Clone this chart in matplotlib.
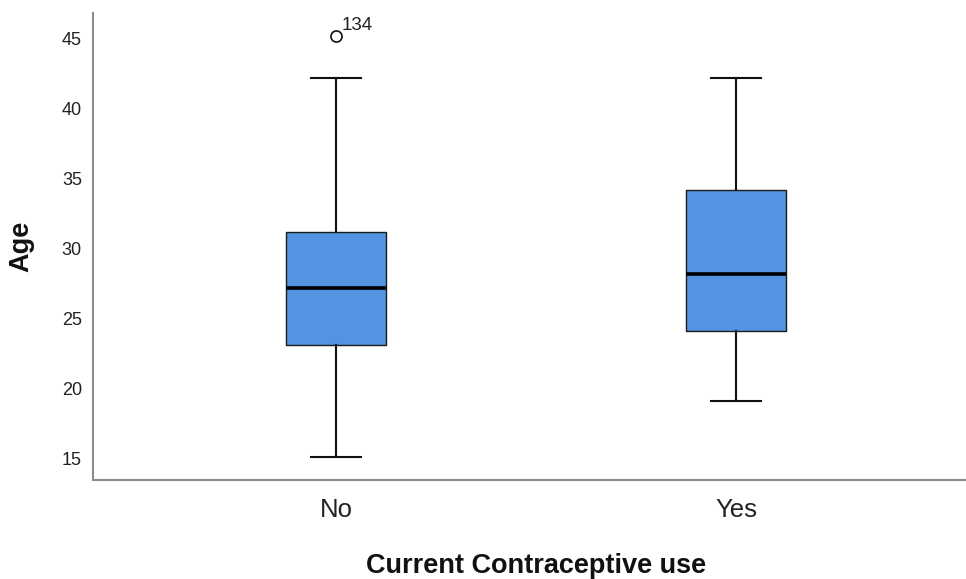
import matplotlib
matplotlib.use("Agg")
import matplotlib.pyplot as plt
import matplotlib.transforms as mtransforms

categories = ["No", "Yes"]
whislo = [15, 19]
q1 = [23, 24]
med = [27, 28]
q3 = [31, 34]
whishi = [42, 42]
outliers = [[45], []]
outlier_ids = [["134"], []]
yticks = [15, 20, 25, 30, 35, 40, 45]

plt.rcParams['font.family'] = ['Liberation Sans', 'DejaVu Sans']

fig = plt.figure(figsize=(9.66, 5.79), dpi=100)
ax = fig.add_axes([93/966, 1 - 480/579, 1 - 93/966, 467/579])

stats = []
for i, c in enumerate(categories):
    stats.append(dict(label=c, whislo=whislo[i], q1=q1[i], med=med[i],
                      q3=q3[i], whishi=whishi[i], fliers=outliers[i]))

positions = list(range(len(categories)))
ax.bxp(stats, positions=positions, widths=0.25, capwidths=0.125,
       patch_artist=True, showfliers=True,
       boxprops=dict(facecolor='#5294e2', edgecolor='#1a1a1a', linewidth=1.0),
       medianprops=dict(color='black', linewidth=2.6, solid_capstyle='butt'),
       whiskerprops=dict(color='#111111', linewidth=1.5),
       capprops=dict(color='#111111', linewidth=1.5),
       flierprops=dict(marker='o', markersize=8, markerfacecolor='none',
                       markeredgecolor='#111111', markeredgewidth=1.2))

for i, ids in enumerate(outlier_ids):
    for val, lab in zip(outliers[i], ids):
        ax.annotate(lab, xy=(positions[i], val), xytext=(4, 8),
                    textcoords='offset points', ha='left', va='center',
                    fontsize=13.5, color='#222222')

ax.set_xlim(-0.6075, 1.575)
ax.set_ylim(13.34, 46.65)
ax.set_yticks(yticks)
ax.set_xticks(positions)
ax.set_xticklabels(categories)

for s in ['top', 'right']:
    ax.spines[s].set_visible(False)
for s in ['left', 'bottom']:
    ax.spines[s].set_color('#8c8c8c')
    ax.spines[s].set_linewidth(1.5)

ax.tick_params(axis='y', length=0, pad=8, labelsize=13, labelcolor='#222222')
ax.tick_params(axis='x', length=0, pad=13, labelsize=18.5, labelcolor='#222222')

shift = mtransforms.ScaledTranslation(0, -2/100, fig.dpi_scale_trans)
for lbl in ax.get_yticklabels():
    lbl.set_transform(lbl.get_transform() + shift)

ax.set_xlabel('Current Contraceptive use', fontsize=19.5, fontweight='bold', color='#111111')
ax.xaxis.set_label_coords((536 - 93) / 873, (480 - 553) / 467)
ax.set_ylabel('Age', fontsize=19.5, fontweight='bold', color='#111111')
ax.yaxis.set_label_coords((34 - 93) / 873, 0.5)

fig.savefig('out.png', dpi=100)
